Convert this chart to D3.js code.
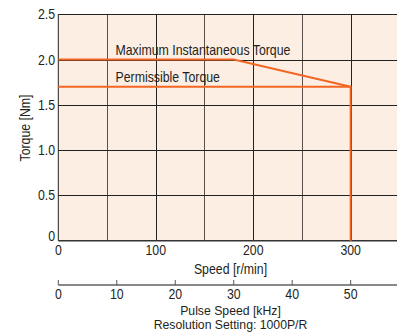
<!DOCTYPE html>
<html><head><meta charset="utf-8">
<script src="https://cdn.jsdelivr.net/npm/d3@7"></script>
<style>body{margin:0;background:#fff}svg{display:block}text{font-family:"Liberation Sans",Arial,sans-serif;fill:#231f20}</style>
</head><body>
<svg id="c" width="397" height="336"></svg>
<script>
const speedTicks = [0, 100, 200, 300];
const speedGrid = [50, 100, 150, 200, 250, 300, 350];
const torqueTicks = [0, 0.5, 1.0, 1.5, 2.0, 2.5];
const torqueTickLabels = ["0", "0.5", "1.0", "1.5", "2.0", "2.5"];
const pulseTicks = [0, 10, 20, 30, 40, 50];
const maxSpeed = [0, 180, 300];
const maxTorque = [2.0, 2.0, 1.7];
const permSpeed = [0, 300, 300];
const permTorque = [1.7, 1.7, 0];

const svg = d3.select("#c");
const x = d3.scaleLinear().domain([0, 350]).range([58.3, 399.4]);
const y = d3.scaleLinear().domain([0, 2.5]).range([240.7, 14.3]);
const xp = d3.scaleLinear().domain([0, 50]).range([x(0), x(300)]);
const FS = 14, SX = 0.88;

function label(g, tx, ty, str, anchor, rot, fs, sx) {
  return g.append("text")
    .attr("transform", `translate(${tx},${ty})` + (rot ? ` rotate(${rot})` : "") + ` scale(${sx || SX},1)`)
    .attr("text-anchor", anchor || "start").attr("font-size", fs || FS).text(str);
}

svg.append("rect").attr("x", x(0)).attr("y", y(2.5)).attr("width", 397 - x(0)).attr("height", y(0) - y(2.5)).attr("fill", "#fdeee4");

// grid
svg.append("g").selectAll("line").data(speedGrid).join("line")
  .attr("x1", d => Math.round(x(d)) + 0.5).attr("x2", d => Math.round(x(d)) + 0.5)
  .attr("y1", y(2.5)).attr("y2", y(0))
  .attr("stroke", d => d % 100 === 0 ? "#222" : "#5a4f4a").attr("stroke-width", 1);
svg.append("g").selectAll("line").data(torqueTicks.slice(1)).join("line")
  .attr("x1", x(0)).attr("x2", 397)
  .attr("y1", d => Math.round(y(d)) + 0.5).attr("y2", d => Math.round(y(d)) + 0.5)
  .attr("stroke", "#222").attr("stroke-width", 1);
svg.append("line").attr("x1", x(0)).attr("x2", x(0)).attr("y1", y(2.5)).attr("y2", y(0)).attr("stroke", "#222");
svg.append("line").attr("x1", x(0)).attr("x2", 397).attr("y1", y(0)).attr("y2", y(0)).attr("stroke", "#333").attr("stroke-width", 1.5);

// curves
const line = d3.line().x(d => x(d[0])).y(d => y(d[1]));
svg.append("path").datum(maxSpeed.map((s, i) => [s, maxTorque[i]])).attr("d", line)
  .attr("fill", "none").attr("stroke", "#f26522").attr("stroke-width", 2);
svg.append("path").datum(permSpeed.map((s, i) => [s, permTorque[i]])).attr("d", line)
  .attr("fill", "none").attr("stroke", "#f26522").attr("stroke-width", 2);

label(svg, 115.5, 54.5, "Maximum Instantaneous Torque");
label(svg, 115.5, 81.5, "Permissible Torque");

const gy = svg.append("g");
torqueTicks.forEach((d, i) => label(gy, 55, y(d) + (d === 0 ? 0 : 5), torqueTickLabels[i], "end"));
const gx = svg.append("g");
speedTicks.forEach(d => label(gx, x(d), 255, d, "middle"));

label(svg, 29.5, 128, "Torque [Nm]", "middle", -90);
label(svg, 230.5, 274, "Speed [r/min]", "middle");

// pulse axis
const pa = svg.append("g");
pa.append("line").attr("x1", x(0)).attr("x2", 397).attr("y1", 285).attr("y2", 285).attr("stroke", "#888").attr("stroke-width", 2);
pa.selectAll("line.t").data(pulseTicks).join("line").attr("class", "t")
  .attr("x1", d => xp(d)).attr("x2", d => xp(d)).attr("y1", 280).attr("y2", 285)
  .attr("stroke", "#555").attr("stroke-width", 1);
pulseTicks.forEach(d => label(pa, xp(d), 299, d, "middle"));
label(svg, 230.5, 314.5, "Pulse Speed [kHz]", "middle", 0, 12.5, 0.98);
label(svg, 230.5, 329, "Resolution Setting: 1000P/R", "middle", 0, 12.5, 0.98);
</script>
</body></html>
